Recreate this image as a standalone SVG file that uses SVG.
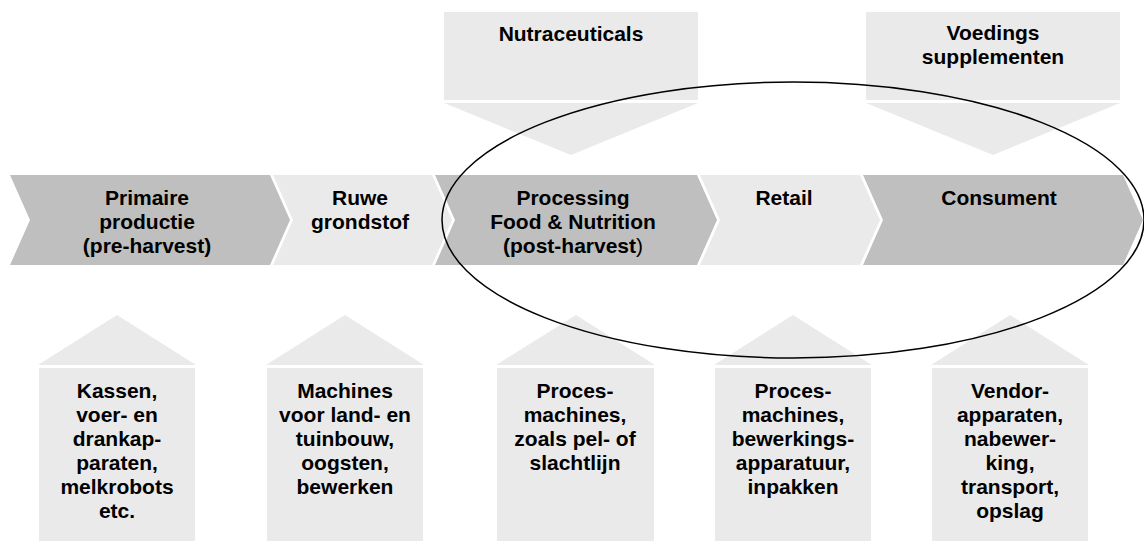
<svg xmlns="http://www.w3.org/2000/svg" width="1144" height="543" viewBox="0 0 1144 543">
<style>
.dark{fill:#bfbfbf}
.light{fill:#eaeaea}
text{font-family:"Liberation Sans",Arial,sans-serif;font-weight:bold;font-size:21px;fill:#000;text-anchor:middle}
.ring{fill:none;stroke:#000;stroke-width:1.5}
</style>
<rect width="1144" height="543" fill="#fff"/>
<g id="chevron-primaire">
<polygon class="dark" points="10,175 270,175 290,220 270,265 10,265 30,220"/>
<text x="147" y="205">Primaire</text>
<text x="147" y="229">productie</text>
<text x="147" y="253">(pre-harvest)</text>
</g>
<g id="chevron-ruwe">
<polygon class="light" points="273,175 432,175 452,220 432,265 273,265 293,220"/>
<text x="360" y="205">Ruwe</text>
<text x="360" y="229">grondstof</text>
</g>
<g id="chevron-processing">
<polygon class="dark" points="435,175 697,175 717,220 697,265 435,265 455,220"/>
<text x="573" y="205">Processing</text>
<text x="573" y="229">Food &amp; Nutrition</text>
<text x="573" y="253">(post-harvest<tspan font-weight="normal">)</tspan></text>
</g>
<g id="chevron-retail">
<polygon class="light" points="700,175 860,175 880,220 860,265 700,265 720,220"/>
<text x="784" y="205">Retail</text>
</g>
<g id="chevron-consument">
<polygon class="dark" points="863,175 1123,175 1143,220 1123,265 863,265 883,220"/>
<text x="999" y="205">Consument</text>
</g>
<g id="nutraceuticals">
<rect class="light" x="444" y="12" width="254" height="88"/>
<polygon class="light" points="444,103 698,103 571,155"/>
<text x="571" y="41">Nutraceuticals</text>
</g>
<g id="voedingssupplementen">
<rect class="light" x="866" y="12" width="254" height="88"/>
<polygon class="light" points="866,103 1120,103 993,155"/>
<text x="993" y="40">Voedings</text>
<text x="993" y="64">supplementen</text>
</g>
<g id="machines-primaire">
<polygon class="light" points="38,365 196,365 117,315"/>
<rect class="light" x="39" y="368" width="156" height="173"/>
<text x="117" y="398">Kassen,</text>
<text x="117" y="422">voer- en</text>
<text x="117" y="446">drankap-</text>
<text x="117" y="470">paraten,</text>
<text x="117" y="494">melkrobots</text>
<text x="117" y="518">etc.</text>
</g>
<g id="machines-ruwe">
<polygon class="light" points="266,365 424,365 345,315"/>
<rect class="light" x="267" y="368" width="156" height="173"/>
<text x="345" y="398">Machines</text>
<text x="345" y="422">voor land- en</text>
<text x="345" y="446">tuinbouw,</text>
<text x="345" y="470">oogsten,</text>
<text x="345" y="494">bewerken</text>
</g>
<g id="machines-processing">
<polygon class="light" points="496,365 655,365 576,315"/>
<rect class="light" x="497" y="368" width="157" height="173"/>
<text x="575" y="398">Proces-</text>
<text x="575" y="422">machines,</text>
<text x="575" y="446">zoals pel- of</text>
<text x="575" y="470">slachtlijn</text>
</g>
<g id="machines-retail">
<polygon class="light" points="714,365 872,365 793,315"/>
<rect class="light" x="715" y="368" width="156" height="173"/>
<text x="793" y="398">Proces-</text>
<text x="793" y="422">machines,</text>
<text x="793" y="446">bewerkings-</text>
<text x="793" y="470">apparatuur,</text>
<text x="793" y="494">inpakken</text>
</g>
<g id="machines-consument">
<polygon class="light" points="931,365 1089,365 1010,315"/>
<rect class="light" x="932" y="368" width="156" height="173"/>
<text x="1010" y="398">Vendor-</text>
<text x="1010" y="422">apparaten,</text>
<text x="1010" y="446">nabewer-</text>
<text x="1010" y="470">king,</text>
<text x="1010" y="494">transport,</text>
<text x="1010" y="518">opslag</text>
</g>
<g id="focus-ellipse">
<ellipse class="ring" cx="793" cy="220" rx="351" ry="138"/>
</g>
</svg>
